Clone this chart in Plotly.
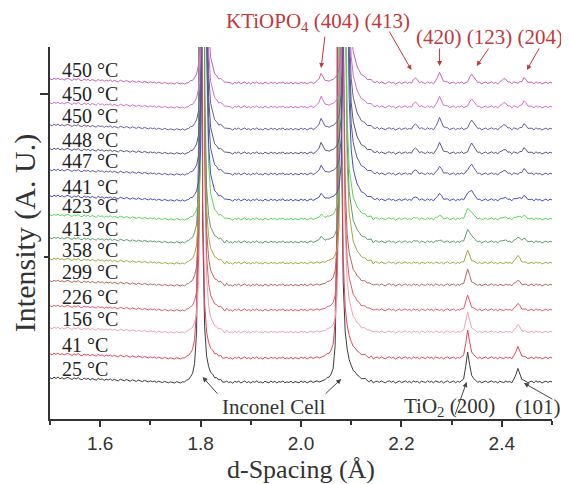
import numpy as np
import plotly.graph_objects as go

# ---------------- data ----------------
temperatures = ["25 °C", "41 °C", "156 °C", "226 °C", "299 °C", "358 °C", "413 °C",
                "423 °C", "441 °C", "447 °C", "448 °C", "450 °C", "450 °C", "450 °C"]
# vertical stacking offset of each pattern (A.U.)
offsets = [37, 61, 87, 109, 134, 156, 177, 200, 219, 245, 266, 290, 312, 336]
line_colors = ["#3c3c3c", "#e0465a", "#eea2b2", "#de5c6c", "#b4685a", "#a4a848", "#5e9c68",
               "#5cd45c", "#4a4ac4", "#5c58a8", "#56567e", "#6c5c9c", "#d26ed2", "#c862b4"]

# d-spacing sampling of the patterns (Å)
d_start, d_step, n_points = 1.5, 0.004, 251

# common background of the cell (noise + slope), A.U., one value per sample
background = [
    4.3, 3.1, 4.8, 3.6, 5.0, 3.2, 4.4, 2.9, 4.1, 4.7,
    3.4, 2.5, 4.2, 3.0, 4.5, 2.8, 2.3, 3.9, 2.7, 3.7,
    2.1, 3.5, 2.6, 1.8, 3.6, 2.4, 3.2, 1.6, 2.9, 2.0,
    3.1, 1.5, 2.7, 1.8, 1.0, 2.8, 1.9, 1.2, 2.5, 1.4,
    0.8, 2.2, 1.3, 0.6, 1.9, 1.0, 0.3, 1.6, 0.9, 0.1,
    1.2, 0.3, 0.9, -0.4, 0.8, 0.0, -0.6, 0.6, -0.1, -0.8,
    0.2, -0.5, -1.0, 0.3, -0.4, -0.9, 0.2, -1.1, 0.0, -0.5,
    0.3, -0.4, 0.5, 0.0, 0.5, 0.2, 0.0, 0.3, -0.2, 0.4,
    -0.3, 0.9, -0.8, 0.4, -1.0, 0.6, -0.2, -1.1, 0.8, -0.5,
    0.2, -1.2, 0.7, -0.3, 1.0, -0.9, 0.0, 1.1, -0.7, 0.4,
    -1.0, 0.6, -0.4, 1.2, -0.6, 0.2, -1.1, 0.8, -0.1, -0.8,
    1.0, -0.4, 0.6, -1.0, 0.4, -0.2, 1.1, -0.8, 0.2, -0.6,
    0.8, -1.1, 0.4, 0.0, -0.8, 1.0, -0.4, 0.6, -1.0, 0.2,
    1.1, -0.5, 0.4, 1.2, -0.1, 0.7, 1.3, 0.4, 1.5, 0.8,
    1.0, 0.6, 1.2, 0.8, 1.0, 0.6, 0.9, 0.5, 0.8, 0.4,
    0.7, -0.4, 0.9, 0.0, 0.6, -0.7, 0.4, 1.1, -0.6, 0.2,
    1.0, -0.9, 0.4, 0.8, -0.4, 1.1, 0.0, -0.8, 0.6, 1.2,
    -0.2, 0.8, -1.0, 0.4, 1.0, -0.6, 0.2, 1.1, -0.4, 0.6,
    -0.8, 1.0, 0.0, 0.6, -1.0, 0.8, 0.2, -0.6, 1.2, -0.2,
    0.6, -0.8, 1.0, 0.0, -0.4, 0.8, -1.0, 0.4, 1.1, -0.6,
    0.2, 1.0, -0.8, 0.6, -0.2, 1.2, -0.6, 0.4, 0.0, 0.8,
    -1.0, 0.6, 1.1, -0.4, 0.8, -0.8, 0.2, 1.0, -0.6, 0.4,
    1.2, -0.4, 0.6, -1.0, 0.8, 0.0, -0.6, 1.0, -0.2, 0.6,
    -0.8, 1.2, 0.2, -0.4, 0.8, -1.0, 0.4, 1.0, -0.6, 0.2,
    0.8, -0.8, 1.2, -0.2, 0.6, -1.0, 0.4, 1.0, -0.6, 0.8, 0.0,
]

# Inconel cell reflections: centre per pattern (Å) and profile (offset Å -> A.U.)
inconel1_center = [1.800, 1.800, 1.804, 1.804, 1.804, 1.804, 1.804,
                   1.808, 1.808, 1.808, 1.808, 1.808, 1.808, 1.808]
inconel2_center = [2.076, 2.076, 2.080, 2.080, 2.080, 2.084, 2.084,
                   2.084, 2.088, 2.088, 2.088, 2.088, 2.088, 2.088]
inconel1_dx = [-0.032, -0.028, -0.024, -0.020, -0.016, -0.012, -0.008, -0.004, 0.0,
               0.004, 0.008, 0.012, 0.016, 0.020, 0.024, 0.028, 0.032, 0.036, 0.040, 0.048]
inconel1_int = [1, 2, 3, 5, 9, 18, 50, 220, 3000,
                160, 55, 26, 15, 10, 7, 5, 4, 3, 2, 1]
inconel2_dx = [-0.032, -0.028, -0.024, -0.020, -0.016, -0.012, -0.008, -0.004, 0.0,
               0.004, 0.008, 0.012, 0.016, 0.020, 0.024, 0.028, 0.032, 0.036, 0.040,
               0.044, 0.048, 0.052, 0.056, 0.064]
inconel2_int = [1, 2, 3, 4, 7, 13, 35, 150, 3000,
                280, 100, 50, 32, 22, 16, 12, 9, 7, 5,
                4, 3, 2.5, 2, 1]

# sample reflections: position (Å) and height in each pattern (A.U.)
small_dx = [-0.008, -0.004, 0.0, 0.004, 0.008, 0.012]
small_shape = [0.12, 0.5, 1.0, 0.55, 0.25, 0.1]
reflection_pos = {"TiO2 (200)": 2.332, "TiO2 (101)": 2.432, "KTP (404)": 2.040,
                  "KTP (413)": 2.228, "KTP (420)": 2.276, "KTP (123)": 2.340,
                  "KTP 2.404": 2.404, "KTP (204)": 2.444}
tio2_200 = [30, 28, 20, 15, 16, 13, 12, 10, 6, 3, 0, 0, 0, 0]
tio2_101 = [14, 12, 8, 7, 5, 8, 5, 3, 2, 0, 0, 0, 0, 0]
ktp_404 = [0, 0, 0, 0, 0, 0, 5, 4, 6, 8, 10, 10, 10, 9]
ktp_413 = [0, 0, 0, 0, 0, 0, 1, 1, 3, 4, 5, 5, 5, 5]
ktp_420 = [0, 0, 0, 0, 0, 0, 2, 4, 7, 8, 11, 12, 11, 11]
ktp_123 = [0, 0, 0, 0, 0, 0, 4, 5, 9, 10, 11, 10, 9, 10]
ktp_2404 = [0, 0, 0, 0, 0, 0, 2, 2, 3, 4, 4, 5, 5, 5]
ktp_204 = [0, 0, 0, 0, 0, 0, 3, 3, 4, 5, 5, 5, 6, 5]
reflection_int = {"TiO2 (200)": tio2_200, "TiO2 (101)": tio2_101, "KTP (404)": ktp_404,
                  "KTP (413)": ktp_413, "KTP (420)": ktp_420, "KTP (123)": ktp_123,
                  "KTP 2.404": ktp_2404, "KTP (204)": ktp_204}

# ---------------- build the patterns ----------------
d = d_start + d_step * np.arange(n_points)


def idx(pos):
    return int(round((pos - d_start) / d_step))


serif = "Liberation Serif, Times New Roman, serif"
fig = go.Figure()
for i, temp in enumerate(temperatures):
    y = np.array(background, dtype=float) + offsets[i]
    for dx, v in zip(inconel1_dx, inconel1_int):
        k = idx(inconel1_center[i] + dx)
        if 0 <= k < n_points:
            y[k] += v
    for dx, v in zip(inconel2_dx, inconel2_int):
        k = idx(inconel2_center[i] + dx)
        if 0 <= k < n_points:
            y[k] += v
    for name, pos in reflection_pos.items():
        h = reflection_int[name][i]
        if h:
            for dx, s in zip(small_dx, small_shape):
                k = idx(pos + dx)
                if 0 <= k < n_points:
                    y[k] += h * s
    fig.add_trace(go.Scatter(x=d, y=y, mode="lines", name=temp,
                             line=dict(color=line_colors[i], width=1),
                             showlegend=False, hoverinfo="skip"))

annotations = []
for i, temp in enumerate(temperatures):
    annotations.append(dict(x=1.52, y=offsets[i] + 13, xref="x", yref="y", text=temp,
                            showarrow=False, xanchor="left", yanchor="middle",
                            font=dict(family=serif, size=20, color="#222222")))

red = "#c0393b"
annotations += [
    dict(x=2.034, y=1.067, xref="x", yref="paper", showarrow=False,
         xanchor="center", yanchor="middle",
         text="KTiOPO<sub>4</sub> (404) (413)", font=dict(family=serif, size=21, color=red)),
    dict(x=2.376, y=1.027, xref="x", yref="paper", showarrow=False,
         xanchor="center", yanchor="middle",
         text="(420) (123) (204)", font=dict(family=serif, size=21, color=red)),
]
for (xh, yh, ax, ay) in [(2.04, 351, 4, -33), (2.22, 349, -23, -40), (2.276, 353, 0, -19),
                         (2.35, 353, 13, -19), (2.45, 349, 13, -23)]:
    annotations.append(dict(x=xh, y=yh, xref="x", yref="y", ax=ax, ay=ay, text="",
                            showarrow=True, arrowhead=2, arrowsize=1, arrowwidth=1,
                            arrowcolor=red, standoff=0))

annotations += [
    dict(x=1.946, y=12, xref="x", yref="y", showarrow=False, text="Inconel Cell",
         xanchor="center", yanchor="middle",
         font=dict(family=serif, size=21, color="#333333")),
    dict(x=2.296, y=12, xref="x", yref="y", showarrow=False, text="TiO<sub>2</sub> (200)",
         xanchor="center", yanchor="middle",
         font=dict(family=serif, size=21, color="#333333")),
    dict(x=2.472, y=12, xref="x", yref="y", showarrow=False, text="(101)",
         xanchor="center", yanchor="middle",
         font=dict(family=serif, size=21, color="#333333")),
]
for (xh, yh, ax, ay) in [(1.804, 42, 16, 18), (2.08, 40, -17, 16), (2.33, 37, -12, 34),
                         (2.444, 36, 30, 17)]:
    annotations.append(dict(x=xh, y=yh, xref="x", yref="y", ax=ax, ay=ay, text="",
                            showarrow=True, arrowhead=2, arrowsize=1, arrowwidth=1,
                            arrowcolor="#444444", standoff=0))

# the page adds an 8 px body margin, so the figure is 8 px smaller and margins shifted
fig.update_layout(
    width=561, height=476,
    margin=dict(l=42, r=17, t=39, b=65),
    paper_bgcolor="white", plot_bgcolor="white",
    annotations=annotations,
    xaxis=dict(range=[1.5, 2.5], showgrid=False, zeroline=False, automargin=False,
               showline=True, linecolor="#333333", linewidth=2,
               ticks="outside", ticklen=6, tickwidth=1.5, tickcolor="#333333",
               tick0=1.6, dtick=0.2, tickformat=".1f",
               minor=dict(dtick=0.1, tick0=1.5, ticks="outside", ticklen=4,
                          tickwidth=1.5, tickcolor="#333333"),
               tickfont=dict(family="Liberation Sans, Arial, sans-serif", size=19, color="#333333"),
               title=dict(text="d-Spacing (Å)", standoff=10,
                          font=dict(family=serif, size=26, color="#333333"))),
    yaxis=dict(range=[0, 372], showgrid=False, zeroline=False, automargin=False,
               showline=True, linecolor="#333333", linewidth=2,
               ticks="outside", tickvals=[325], ticklen=8, tickwidth=1.5,
               tickcolor="#333333", showticklabels=False,
               minor=dict(tickvals=[162], ticks="outside", ticklen=4, tickwidth=1.5,
                          tickcolor="#333333"),
               title=dict(text="Intensity (A. U.)", standoff=2,
                          font=dict(family=serif, size=30, color="#333333"))),
)

fig.write_html("out.html")
